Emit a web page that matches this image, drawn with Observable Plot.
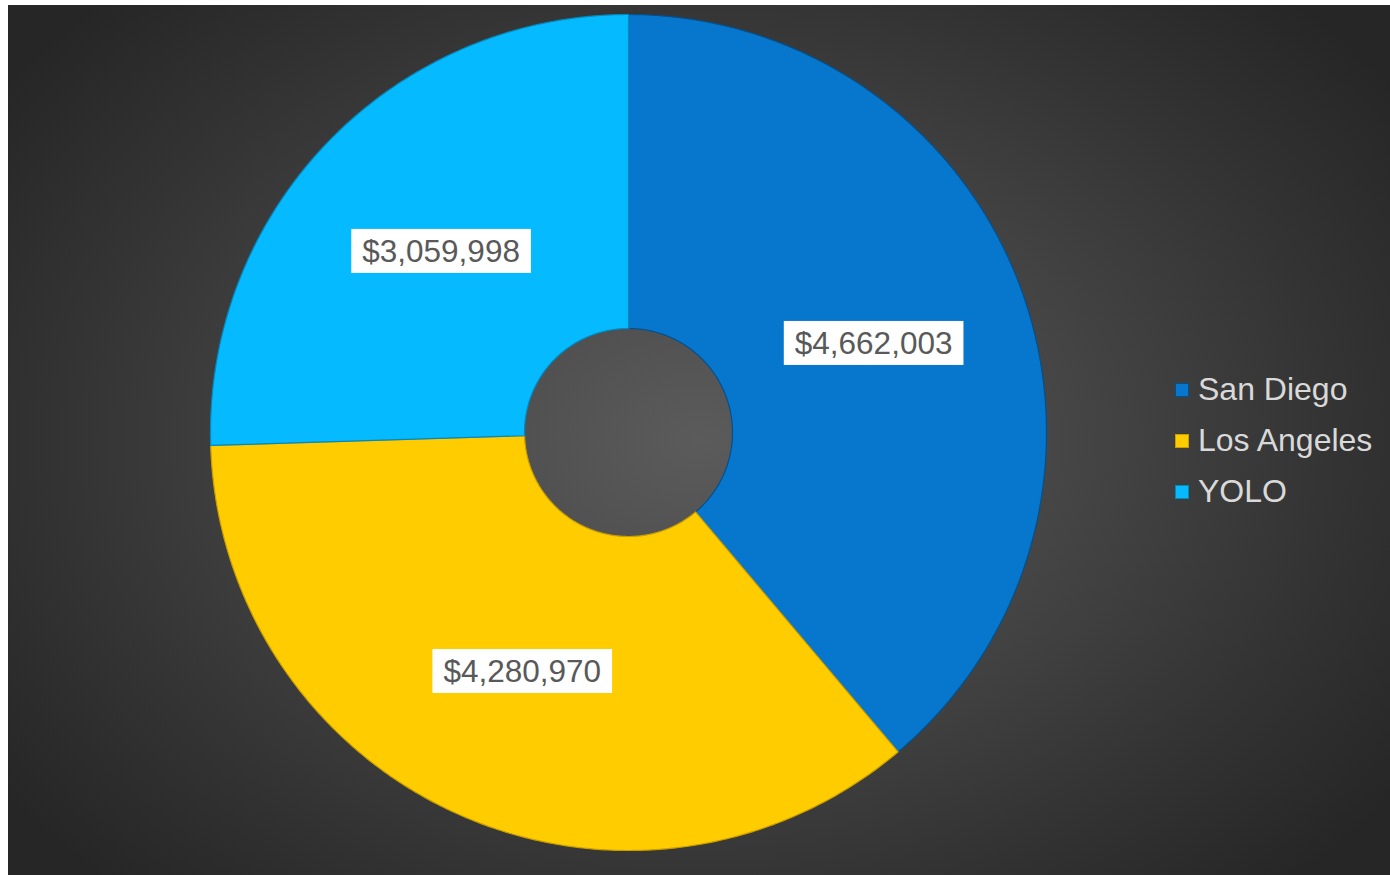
<!DOCTYPE html>
<html>
<head>
<meta charset="utf-8">
<script src="https://cdn.jsdelivr.net/npm/d3@7"></script>
<script src="https://cdn.jsdelivr.net/npm/@observablehq/plot@0.6"></script>
<style>
  html, body { margin: 0; padding: 0; background: #ffffff; }
  #wrap { position: relative; width: 1390px; height: 875px; overflow: hidden; }
  #bg { position: absolute; left: 8px; top: 5px; right: 0; bottom: 0;
        background: radial-gradient(ellipse 62% 70% at 50% 50%, #5b5b5b 0%, #474747 40%, #333333 75%, #262626 100%); }
  #chart { position: absolute; left: 0; top: 0; }
  #legend { position: absolute; left: 1175px; top: 364px; font-family: "Liberation Sans", Arial, sans-serif;
            font-size: 32px; color: #d9d9d9; }
  .li { height: 51px; display: flex; align-items: center; }
  .sw { width: 14px; height: 14px; margin-right: 9px; box-sizing: border-box; }
</style>
</head>
<body>
<div id="wrap">
  <div id="bg"></div>
  <div id="chart"></div>
  <div id="legend"></div>
</div>
<script>
// ---- data ----
const names = ["San Diego", "Los Angeles", "YOLO"];
const values = [4662003, 4280970, 3059998];
const labels = ["$4,662,003", "$4,280,970", "$3,059,998"];
const colors = ["#0777CD", "#FFCC00", "#05BAFF"];
const strokes = ["#04508c", "#c99e00", "#0388bd"];

// ---- layout ----
const cx = 628, cy = 432, R = 418, rIn = 104;
const inner = rIn / R;

const total = d3.sum(values);
let acc = 0;
const slices = names.map((n, i) => {
  const a0 = acc / total * 2 * Math.PI;
  acc += values[i];
  const a1 = acc / total * 2 * Math.PI;
  return {name: n, a0, a1, label: labels[i]};
});

const pts = [];
for (const s of slices) {
  const steps = Math.max(8, Math.ceil((s.a1 - s.a0) / (Math.PI / 360)));
  for (let k = 0; k <= steps; k++) {
    const a = s.a0 + (s.a1 - s.a0) * k / steps;
    pts.push({name: s.name, x: Math.sin(a), y: Math.cos(a)});
  }
  for (let k = steps; k >= 0; k--) {
    const a = s.a0 + (s.a1 - s.a0) * k / steps;
    pts.push({name: s.name, x: inner * Math.sin(a), y: inner * Math.cos(a)});
  }
}
const mid = (1 + inner) / 2;
const labelPts = slices.map(s => {
  const a = (s.a0 + s.a1) / 2;
  return {label: s.label, x: mid * Math.sin(a), y: mid * Math.cos(a)};
});

const plot = Plot.plot({
  width: 1390, height: 875,
  margin: 0,
  style: {background: "transparent", overflow: "visible"},
  x: {domain: [-1, 1], range: [cx - R, cx + R], axis: null},
  y: {domain: [-1, 1], range: [cy + R, cy - R], axis: null},
  color: {domain: names, range: colors},
  marks: [
    Plot.line(pts, {x: "x", y: "y", z: "name", fill: "name", curve: "linear-closed",
      stroke: d => strokes[names.indexOf(d.name)], strokeWidth: 1.2}),
    Plot.text(labelPts, {x: "x", y: "y", text: "label", fill: "#595959", fontSize: 31.5,
      fontFamily: "Liberation Sans, Arial, sans-serif", dy: 1})
  ]
});
document.getElementById("chart").appendChild(plot);

// white label boxes behind the value labels
const textNodes = Array.from(plot.querySelectorAll("text"));
textNodes.forEach(t => {
  const bb = t.getBBox();
  const rect = document.createElementNS("http://www.w3.org/2000/svg", "rect");
  rect.setAttribute("x", bb.x - 11);
  rect.setAttribute("y", bb.y - 4);
  rect.setAttribute("width", bb.width + 22);
  rect.setAttribute("height", bb.height + 8);
  rect.setAttribute("fill", "#ffffff");
  rect.setAttribute("stroke", "none");
  const tr = t.getAttribute("transform");
  if (tr) rect.setAttribute("transform", tr);
  t.parentNode.insertBefore(rect, t);
});

// legend
const lg = d3.select("#legend");
names.forEach((n, i) => {
  const row = lg.append("div").attr("class", "li");
  row.append("div").attr("class", "sw")
    .style("background", colors[i])
    .style("border", "1px solid " + strokes[i]);
  row.append("span").text(n);
});
</script>
</body>
</html>
